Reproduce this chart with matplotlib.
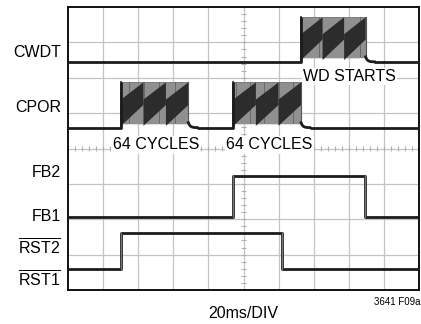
import matplotlib
matplotlib.use("Agg")
import matplotlib.pyplot as plt
import numpy as np

plt.rcParams['font.family'] = ['Liberation Sans', 'DejaVu Sans']
plt.rcParams['mathtext.fontset'] = 'custom'
plt.rcParams['mathtext.rm'] = 'Liberation Sans'

# scope screen: 10 x 8 divisions, 20ms/DIV
# trace levels (divisions from bottom)
cwdt_low, cwdt_high = 6.45, 7.71
cpor_low, cpor_high = 4.59, 5.87
fb_low, fb_high = 2.05, 3.23
rst_low, rst_high = 0.59, 1.60

# edges (divisions from left)
cpor_bursts = [(1.51, 3.43), (4.71, 6.64)]
cwdt_bursts = [(6.64, 8.48)]
fb_edges = [4.71, 8.46]      # rise, fall
rst_edges = [1.51, 6.09]     # rise, fall

left_labels = ['CWDT', 'CPOR', 'FB2', 'FB1', r'$\overline{\mathrm{RST2}}$', r'$\overline{\mathrm{RST1}}$']
left_label_y = [6.70, 5.17, 3.31, 2.09, 1.19, 0.28]
notes = ['64 CYCLES', '64 CYCLES', 'WD STARTS']
notes_x = [2.50, 5.74, 8.01]
notes_y = [4.10, 4.10, 6.03]

trace_c = '#1c1c1c'
fs = 11.5
fig = plt.figure(figsize=(4.21, 3.24), dpi=100)
ax = fig.add_axes([68 / 421, 34 / 324, 351 / 421, 283 / 324])
ax.set_xlim(0, 10)
ax.set_ylim(0, 8)
ax.set_xticks([])
ax.set_yticks([])
for s in ax.spines.values():
    s.set_linewidth(1.4)
    s.set_color('#111111')

# grid
for gx in range(1, 10):
    ax.axvline(gx, color='#c4c4c4', lw=0.9, zorder=0)
for gy in range(1, 8):
    ax.axhline(gy, color='#c4c4c4', lw=0.9, zorder=0)
mt = np.arange(0, 10.01, 0.2)
ax.vlines(mt, 4 - 0.07, 4 + 0.07, color='#b0b0b0', lw=0.8, zorder=0)
mt = np.arange(0, 8.01, 0.2)
ax.hlines(mt, 5 - 0.07, 5 + 0.07, color='#b0b0b0', lw=0.8, zorder=0)


def burst_trace(ax, bursts, low, high):
    # flat baseline between bursts, with small decay after each burst
    xs = [0]
    ys = [low]
    for (a, b) in bursts:
        xs += [a, a]
        ys += [low, high]
        # burst body: striped gray with dark sawtooth bands
        ax.fill_between([a, b], low + 0.1, high, color='#6a6a6a', lw=0, zorder=2)
        ax.vlines(np.linspace(a, b, 64), low + 0.1, high, color='#a2a2a2', lw=0.5, zorder=2)
        h = high - low
        per = (b - a) / 3
        for k in range(3):
            x0 = a + k * per
            x1 = x0 + per
            px = [x0, x1, x1, x0]
            py = [low + 0.04 * h, low + 0.5 * h, high, low + 0.62 * h]
            ax.fill(px, py, color='#2c2c2c', lw=0, zorder=3)
        ax.plot([a, a], [low, high], color=trace_c, lw=1.2, zorder=4)
        ax.plot([b, b], [low + 0.12, high], color='#555555', lw=0.8, zorder=4)
        t = np.linspace(0, 1, 20)
        dx = b + 0.25 * t
        dy = low + 0.14 * np.exp(-5 * t)
        ax.plot(dx, dy, color=trace_c, lw=2.0, zorder=4)
        xs += [np.nan, b + 0.25]
        ys += [np.nan, low]
    xs.append(10)
    ys.append(low)
    ax.plot(xs, ys, color=trace_c, lw=2.0, zorder=4, solid_capstyle='butt')


burst_trace(ax, cwdt_bursts, cwdt_low, cwdt_high)
burst_trace(ax, cpor_bursts, cpor_low, cpor_high)

# FB trace
ax.plot([0, fb_edges[0], fb_edges[0], fb_edges[1], fb_edges[1], 10],
        [fb_low, fb_low, fb_high, fb_high, fb_low, fb_low],
        color=trace_c, lw=2.0, zorder=4)
for e in fb_edges:
    ax.plot([e, e], [fb_low, fb_high], color='#777777', lw=0.9, zorder=5)
# RST trace
ax.plot([0, rst_edges[0], rst_edges[0], rst_edges[1], rst_edges[1], 10],
        [rst_low, rst_low, rst_high, rst_high, rst_low, rst_low],
        color=trace_c, lw=2.0, zorder=4)
for e in rst_edges:
    ax.plot([e, e], [rst_low, rst_high], color='#777777', lw=0.9, zorder=5)

for lab, ly in zip(left_labels, left_label_y):
    ax.text(-0.2, ly, lab, ha='right', va='center', fontsize=fs, clip_on=False)

for txt, nx, ny in zip(notes, notes_x, notes_y):
    ax.text(nx, ny, txt, ha='center', va='center', fontsize=fs, zorder=6,
            bbox=dict(facecolor='white', edgecolor='none', pad=0.8))

fig.text(243 / 421, 1 - 313 / 324, '20ms/DIV', ha='center', va='center', fontsize=fs)
fig.text(420 / 421, 1 - 302 / 324, '3641 F09a', ha='right', va='center', fontsize=7)

fig.savefig('out.png', dpi=100, facecolor='white')
